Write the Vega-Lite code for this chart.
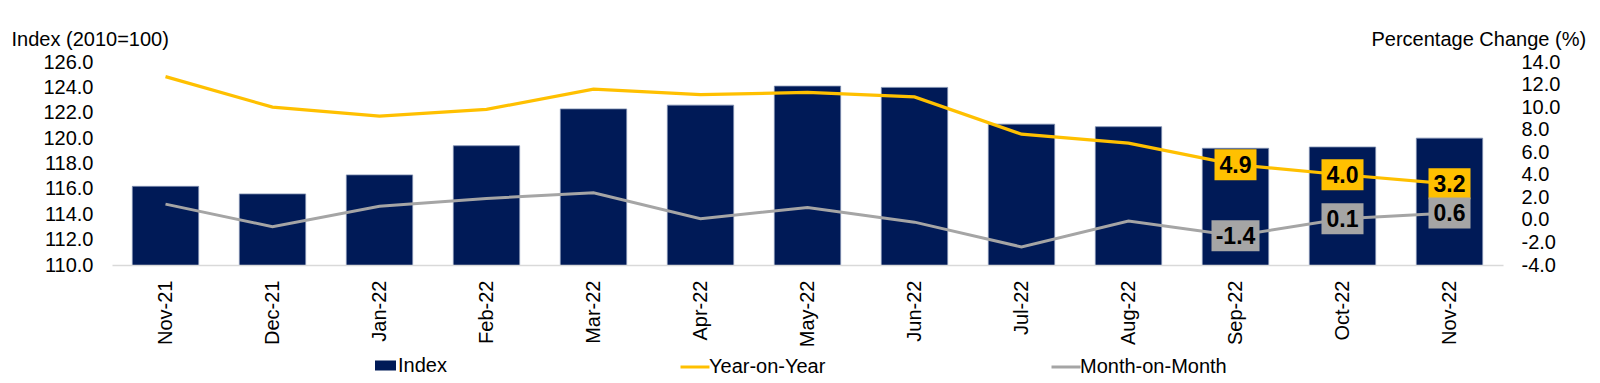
{
  "$schema": "https://vega.github.io/schema/vega-lite/v6.json",
  "width": 1391,
  "height": 203,
  "autosize": {"type": "none"},
  "padding": {"left": 112, "top": 62, "right": 97, "bottom": 118},
  "config": {
    "font": "Liberation Sans",
    "view": {"stroke": null},
    "locale": {"number": {"decimal": ".", "thousands": ",", "grouping": [3], "currency": ["$", ""], "minus": "-"}},
    "axis": {"labelFont": "Liberation Sans", "titleFont": "Liberation Sans", "labelColor": "#000000", "titleColor": "#000000", "labelOverlap": false},
    "legend": {"labelFont": "Liberation Sans"}
  },
  "data": {
    "values": [
      {"month": "Nov-21", "index": 116.2, "yoy": 12.7, "mom": 1.4},
      {"month": "Dec-21", "index": 115.6, "yoy": 10.0, "mom": -0.6},
      {"month": "Jan-22", "index": 117.1, "yoy": 9.2, "mom": 1.2},
      {"month": "Feb-22", "index": 119.4, "yoy": 9.8, "mom": 1.9},
      {"month": "Mar-22", "index": 122.3, "yoy": 11.6, "mom": 2.4},
      {"month": "Apr-22", "index": 122.6, "yoy": 11.1, "mom": 0.1},
      {"month": "May-22", "index": 124.1, "yoy": 11.3, "mom": 1.1},
      {"month": "Jun-22", "index": 124.0, "yoy": 10.9, "mom": -0.2},
      {"month": "Jul-22", "index": 121.1, "yoy": 7.6, "mom": -2.4},
      {"month": "Aug-22", "index": 120.9, "yoy": 6.8, "mom": -0.1},
      {"month": "Sep-22", "index": 119.2, "yoy": 4.9, "mom": -1.4},
      {"month": "Oct-22", "index": 119.3, "yoy": 4.0, "mom": 0.1},
      {"month": "Nov-22", "index": 120.0, "yoy": 3.2, "mom": 0.6}
    ]
  },
  "resolve": {"scale": {"y": "independent"}},
  "layer": [
    {
      "mark": {"type": "bar", "stroke": "#7f8fb0", "strokeWidth": 0.8, "clip": true},
      "encoding": {
        "x": {
          "field": "month", "type": "ordinal", "sort": null,
          "scale": {"paddingInner": 0.38, "paddingOuter": 0.19},
          "axis": {
            "title": null, "labelAngle": -90, "labelFontSize": 20, "labelPadding": 15,
            "ticks": false, "tickSize": 0, "domainColor": "#d9d9d9", "domainWidth": 1.5, "grid": false,
            "zindex": 1
          }
        },
        "y": {
          "field": "index", "type": "quantitative",
          "scale": {"domain": [110, 126], "zero": false, "nice": false},
          "axis": {
            "title": "Index (2010=100)", "titleAngle": 0, "titleX": -101, "titleY": -23,
            "titleAlign": "left", "titleBaseline": "middle", "titleFontSize": 20, "titleFontWeight": "normal",
            "values": [110, 112, 114, 116, 118, 120, 122, 124, 126], "format": ".1f", "labelOverlap": false,
            "labelFontSize": 20, "labelPadding": 19, "domain": false, "ticks": false, "grid": false
          }
        },
        "fill": {
          "datum": "Index", "type": "nominal",
          "scale": {"domain": ["Index"], "range": ["#001A57"]},
          "legend": {
            "title": null, "orient": "none", "legendX": 263, "legendY": 289, "direction": "horizontal",
            "padding": 0, "labelFontSize": 20, "labelOffset": -6, "symbolSize": 841,
            "symbolType": "M-1,-0.345H0.45V0.345H-1Z", "symbolStrokeWidth": 0, "symbolOpacity": 1,
            "labelColor": "#000000"
          }
        }
      }
    },
    {
      "layer": [
        {
          "mark": {"type": "line", "strokeWidth": 3.2},
          "encoding": {
            "x": {"field": "month", "type": "ordinal", "sort": null},
            "y": {
              "field": "yoy", "type": "quantitative",
              "scale": {"domain": [-4, 14], "nice": false, "zero": false},
              "axis": {
                "orient": "right", "title": "Percentage Change (%)", "titleAngle": 0,
                "titleX": -132, "titleY": -23, "titleAlign": "left", "titleBaseline": "middle",
                "titleFontSize": 20, "titleFontWeight": "normal",
                "values": [-4, -2, 0, 2, 4, 6, 8, 10, 12, 14], "format": ".1f", "labelOverlap": false,
                "labelFontSize": 20, "labelPadding": 18, "domain": false, "ticks": false, "grid": false
              }
            },
            "stroke": {
              "datum": "Year-on-Year", "type": "nominal",
              "scale": {"domain": ["Year-on-Year", "Month-on-Month"], "range": ["#FFC000", "#A5A5A5"]},
              "legend": {
                "title": null, "orient": "none", "legendX": 567, "legendY": 289, "direction": "horizontal",
                "padding": 0, "columnPadding": 219, "labelFontSize": 20, "labelOffset": -2, "symbolSize": 841,
                "symbolType": "stroke", "symbolStrokeWidth": 3, "labelColor": "#000000"
              }
            }
          }
        },
        {
          "mark": {"type": "line", "strokeWidth": 3},
          "encoding": {
            "x": {"field": "month", "type": "ordinal", "sort": null},
            "y": {
              "field": "mom", "type": "quantitative",
              "axis": {
                "orient": "right", "title": "Percentage Change (%)", "titleAngle": 0,
                "titleX": -132, "titleY": -23, "titleAlign": "left", "titleBaseline": "middle",
                "titleFontSize": 20, "titleFontWeight": "normal",
                "values": [-4, -2, 0, 2, 4, 6, 8, 10, 12, 14], "format": ".1f", "labelOverlap": false,
                "labelFontSize": 20, "labelPadding": 18, "domain": false, "ticks": false, "grid": false
              }
            },
            "stroke": {"datum": "Month-on-Month", "type": "nominal"}
          }
        },
        {
          "transform": [{"filter": {"field": "month", "oneOf": ["Sep-22", "Oct-22", "Nov-22"]}}],
          "mark": {"type": "point", "filled": true, "opacity": 1, "color": "#FFC000", "strokeWidth": 0, "shape": "M-1,-0.738H1V0.738H-1Z", "size": 1764},
          "encoding": {
            "x": {"field": "month", "type": "ordinal", "sort": null},
            "y": {
              "field": "yoy", "type": "quantitative",
              "axis": {
                "orient": "right", "title": "Percentage Change (%)", "titleAngle": 0,
                "titleX": -132, "titleY": -23, "titleAlign": "left", "titleBaseline": "middle",
                "titleFontSize": 20, "titleFontWeight": "normal",
                "values": [-4, -2, 0, 2, 4, 6, 8, 10, 12, 14], "format": ".1f", "labelOverlap": false,
                "labelFontSize": 20, "labelPadding": 18, "domain": false, "ticks": false, "grid": false
              }
            }
          }
        },
        {
          "transform": [{"filter": {"field": "month", "oneOf": ["Sep-22", "Oct-22", "Nov-22"]}}],
          "mark": {"type": "text", "fontSize": 23, "fontWeight": "bold", "color": "#000000", "baseline": "middle", "align": "center", "dy": 1},
          "encoding": {
            "x": {"field": "month", "type": "ordinal", "sort": null},
            "y": {
              "field": "yoy", "type": "quantitative",
              "axis": {
                "orient": "right", "title": "Percentage Change (%)", "titleAngle": 0,
                "titleX": -132, "titleY": -23, "titleAlign": "left", "titleBaseline": "middle",
                "titleFontSize": 20, "titleFontWeight": "normal",
                "values": [-4, -2, 0, 2, 4, 6, 8, 10, 12, 14], "format": ".1f", "labelOverlap": false,
                "labelFontSize": 20, "labelPadding": 18, "domain": false, "ticks": false, "grid": false
              }
            },
            "text": {"field": "yoy", "type": "quantitative", "format": ".1f"}
          }
        },
        {
          "transform": [{"filter": {"field": "month", "oneOf": ["Sep-22", "Oct-22", "Nov-22"]}}],
          "mark": {"type": "point", "filled": true, "opacity": 1, "color": "#A5A5A5", "strokeWidth": 0},
          "encoding": {
            "x": {"field": "month", "type": "ordinal", "sort": null},
            "y": {
              "field": "mom", "type": "quantitative",
              "axis": {
                "orient": "right", "title": "Percentage Change (%)", "titleAngle": 0,
                "titleX": -132, "titleY": -23, "titleAlign": "left", "titleBaseline": "middle",
                "titleFontSize": 20, "titleFontWeight": "normal",
                "values": [-4, -2, 0, 2, 4, 6, 8, 10, 12, 14], "format": ".1f", "labelOverlap": false,
                "labelFontSize": 20, "labelPadding": 18, "domain": false, "ticks": false, "grid": false
              }
            },
            "shape": {"condition": {"test": "datum.mom < 0", "value": "M-1,-0.646H1V0.646H-1Z"}, "value": "M-1,-0.738H1V0.738H-1Z"},
            "size": {"condition": {"test": "datum.mom < 0", "value": 2304}, "value": 1764}
          }
        },
        {
          "transform": [{"filter": {"field": "month", "oneOf": ["Sep-22", "Oct-22", "Nov-22"]}}],
          "mark": {"type": "text", "fontSize": 23, "fontWeight": "bold", "color": "#000000", "baseline": "middle", "align": "center", "dy": 1},
          "encoding": {
            "x": {"field": "month", "type": "ordinal", "sort": null},
            "y": {
              "field": "mom", "type": "quantitative",
              "axis": {
                "orient": "right", "title": "Percentage Change (%)", "titleAngle": 0,
                "titleX": -132, "titleY": -23, "titleAlign": "left", "titleBaseline": "middle",
                "titleFontSize": 20, "titleFontWeight": "normal",
                "values": [-4, -2, 0, 2, 4, 6, 8, 10, 12, 14], "format": ".1f", "labelOverlap": false,
                "labelFontSize": 20, "labelPadding": 18, "domain": false, "ticks": false, "grid": false
              }
            },
            "text": {"field": "mom", "type": "quantitative", "format": ".1f"}
          }
        }
      ]
    }
  ]
}
